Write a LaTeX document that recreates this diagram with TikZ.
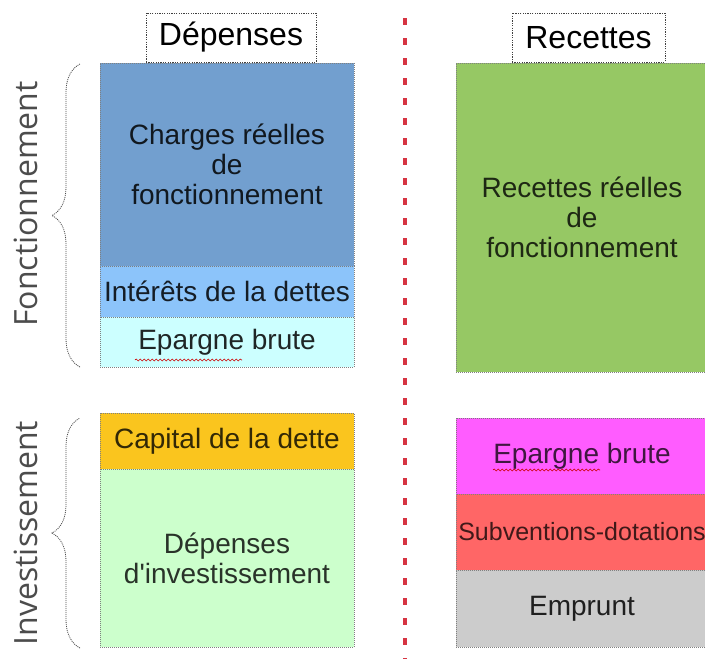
\documentclass[tikz,border=0pt]{standalone}
\usepackage{fontspec}
\setmainfont{Liberation Sans}
\newfontfamily\sidefont{Open Sans}
\usepackage{tikz}
\usetikzlibrary{positioning}
\usetikzlibrary{decorations.pathreplacing,decorations.pathmorphing}
\definecolor{chargesblue}{RGB}{114,159,207}
\definecolor{interetsblue}{RGB}{140,196,250}
\definecolor{epargnecyan}{RGB}{204,255,255}
\definecolor{recettesgreen}{RGB}{150,200,100}
\definecolor{capitalgold}{RGB}{250,197,30}
\definecolor{invgreen}{RGB}{204,255,204}
\definecolor{epargnemagenta}{RGB}{255,92,255}
\definecolor{subvred}{RGB}{255,102,102}
\definecolor{empruntgray}{RGB}{204,204,204}
\definecolor{sepred}{RGB}{214,52,66}
\tikzset{
  bloc/.style={draw=gray, dash pattern=on 1pt off 1pt, line width=0.7pt,
    minimum width=254pt, outer sep=0pt, inner sep=0pt, align=center,
    font=\fontsize{28}{30}\selectfont},
  header/.style={draw=black!75, dash pattern=on 1.2pt off 1.2pt, line width=0.8pt,
    fill=white, outer sep=0pt, inner sep=0pt, minimum height=49pt,
    font=\fontsize{32}{36}\selectfont},
  sidebrace/.style={decorate, decoration={brace, amplitude=28pt},
    draw=black!70, dash pattern=on 1pt off 1pt, line width=0.8pt},
  sidelabel/.style={rotate=90, anchor=base, text=black!70,
    font=\sidefont\fontsize{32}{36}\selectfont},
  wavy/.style={decorate, decoration={snake, amplitude=1pt, segment length=4pt},
    draw=red!80!black, line width=0.6pt}
}
\begin{document}
\begin{tikzpicture}[x=1pt, y=-1pt]
\useasboundingbox (0,0) rectangle (705,659);
% fonctionnement / depenses
\node[header, minimum width=170pt, anchor=north] (depenses) at (231,13) {Dépenses};
\node[bloc, fill=chargesblue, text=chargesblue!15!black, minimum height=203pt, anchor=north] (charges) at (227,63) {Charges réelles\\de\\fonctionnement};
\node[bloc, fill=interetsblue, text=interetsblue!15!black, minimum height=51pt, below=0pt of charges] (interets) {Intérêts de la dettes};
\node[bloc, fill=epargnecyan, text=epargnecyan!15!black, minimum height=50pt, below=0pt of interets] (epargnef) {Epargne brute};
% investissement / depenses
\node[bloc, fill=capitalgold, text=capitalgold!20!black, minimum height=56pt, anchor=north] (capital) at (227,413) {Capital de la dette};
\node[bloc, fill=invgreen, text=invgreen!20!black, minimum height=178pt, below=0pt of capital] (depinv) {Dépenses\\d\textquotesingle investissement};
% recettes
\node[header, minimum width=153pt, anchor=north] (recettes) at (588.5,13) {Recettes};
\node[bloc, fill=recettesgreen, text=recettesgreen!20!black, minimum width=252pt, minimum height=309pt, anchor=north] (recreelles) at (582,63) {Recettes réelles\\de\\fonctionnement};
\node[bloc, fill=epargnemagenta, text=epargnemagenta!25!black, minimum width=252pt, minimum height=76pt, anchor=north] (epargnei) at (582,418) {Epargne brute};
\node[bloc, fill=subvred, text=subvred!25!black, minimum width=252pt, minimum height=76pt, font=\fontsize{25}{30}\selectfont, below=0pt of epargnei] (subv) {Subventions-dotations};
\node[bloc, fill=empruntgray, text=empruntgray!15!black, minimum width=252pt, minimum height=77pt, below=0pt of subv] (emprunt) {Emprunt};
% spell check marks
\draw[wavy] (135,360) -- (242,360);
\draw[wavy] (493,470) -- (600,470);
% separation
\draw[sepred, line width=4pt, dash pattern=on 7pt off 13pt] (405,18) -- (405,659);
% side labels
\draw[sidebrace] (80,367) -- (80,64);
\draw[sidebrace] (80,648) -- (80,418);
\node[sidelabel] (fonct) at (37,204) {Fonctionnement};
\node[sidelabel] (invest) at (37,533) {Investissement};
\end{tikzpicture}
\end{document}
